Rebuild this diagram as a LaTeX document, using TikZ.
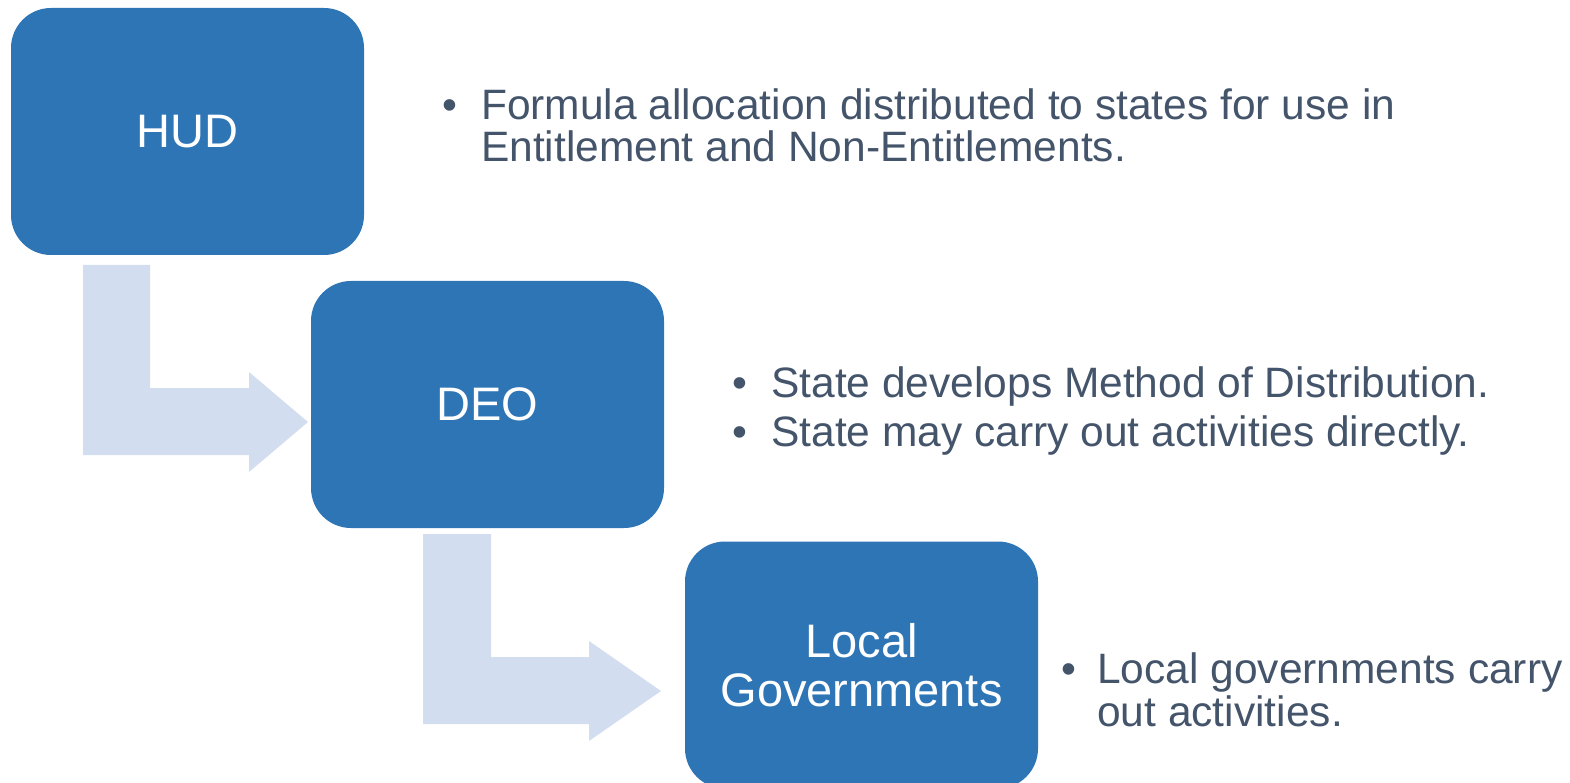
\documentclass[tikz,border=0pt]{standalone}
\usepackage{fontspec}
\setmainfont{Liberation Sans}
\definecolor{boxblue}{HTML}{2E75B6}
\definecolor{arrowfill}{HTML}{D2DEEF}
\definecolor{txtgray}{HTML}{44546A}
\begin{document}
\begin{tikzpicture}[x=1pt,y=-1pt,
  stagebox/.style={fill=boxblue, rounded corners=40pt, minimum width=353pt, minimum height=247pt,
    inner sep=0pt, text=white, font=\fontsize{47}{49}\selectfont, align=center},
  bendarrow/.style={fill=arrowfill},
  bullettext/.style={text=txtgray, font=\fontsize{42.5}{43}\selectfont, anchor=base west, inner sep=0pt},
  bulletdot/.style={text=txtgray, font=\fontsize{42.5}{43}\selectfont, anchor=base, inner sep=0pt}]
\useasboundingbox (0,0) rectangle (1570,783);

% bent arrows
\fill[bendarrow] (83,265) -- (150,265) -- (150,388) -- (249,388) -- (249,372) -- (308,422)
  -- (249,472) -- (249,455) -- (83,455) -- cycle;
\fill[bendarrow] (423,534) -- (491,534) -- (491,657) -- (589,657) -- (589,641) -- (661,691)
  -- (589,741) -- (589,724) -- (423,724) -- cycle;

% stage boxes
\node[stagebox] (hud) at (187.5,131.5) {HUD};
\node[stagebox] (deo) at (487.5,404.5) {DEO};
\node[stagebox] (local) at (861.5,665) {Local\\Governments};

% bullet texts
\node[bulletdot] (b1) at (450,120) {•};
\node[bullettext] (t1a) at (481,120) {Formula allocation distributed to states for use in};
\node[bullettext] (t1b) at (481,162) {Entitlement and Non-Entitlements.};

\node[bulletdot] (b2) at (740,397) {•};
\node[bullettext] (t2) at (771,397) {State develops Method of Distribution.};
\node[bulletdot] (b3) at (740,446) {•};
\node[bullettext] (t3) at (771,446) {State may carry out activities directly.};

\node[bulletdot] (b4) at (1069,683) {•};
\node[bullettext] (t4a) at (1097,683) {Local governments carry};
\node[bullettext] (t4b) at (1097,726) {out activities.};
\end{tikzpicture}
\end{document}
